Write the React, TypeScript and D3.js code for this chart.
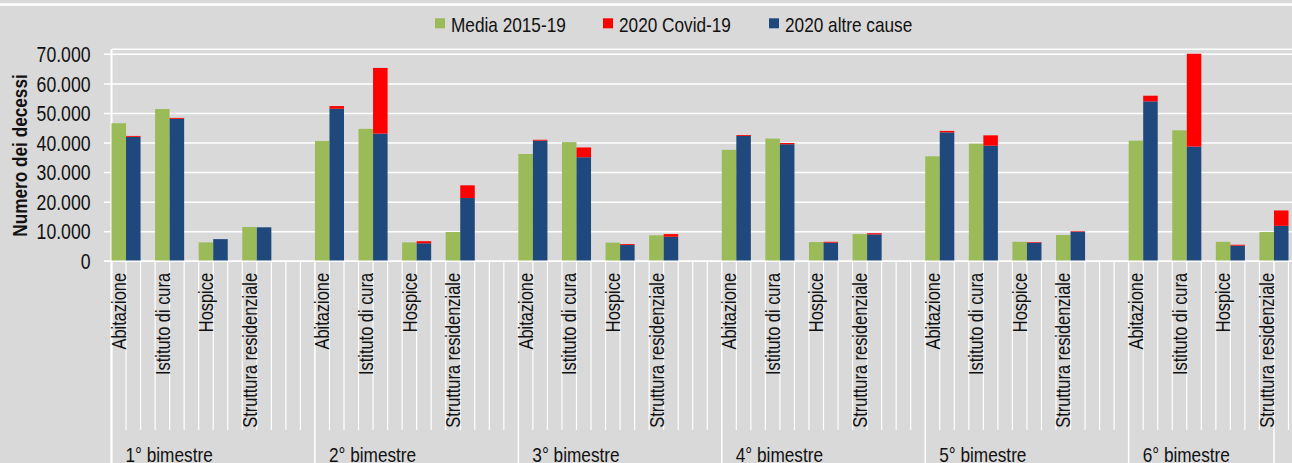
import React from 'react'
import * as d3 from 'd3'

const groups = ['1° bimestre', '2° bimestre', '3° bimestre', '4° bimestre', '5° bimestre', '6° bimestre']
const places = ['Abitazione', 'Istituto di cura', 'Hospice', 'Struttura residenziale']
const seriesNames = ['Media 2015-19', '2020 Covid-19', '2020 altre cause']

// one value per group x place, in the order of groups then places
const media = [
  46700, 51500, 6400, 11600,
  40700, 44800, 6400, 9900,
  36300, 40300, 6300, 8800,
  37700, 41500, 6500, 9200,
  35500, 39800, 6600, 8900,
  40800, 44300, 6600, 9900,
]
const altreCause = [
  42100, 48200, 7500, 11500,
  51600, 43200, 6100, 21400,
  40800, 35200, 5500, 8300,
  42400, 39600, 6300, 9100,
  43600, 39100, 6300, 10000,
  54100, 38800, 5300, 12000,
]
const covid = [
  300, 300, 0, 0,
  900, 22200, 700, 4300,
  300, 3300, 300, 900,
  300, 400, 300, 400,
  500, 3500, 200, 200,
  1900, 31400, 300, 5200,
]
const yTicks = [0, 10000, 20000, 30000, 40000, 50000, 60000, 70000]

const width = 1292
const height = 463
const colors = ['#9bbb59', '#ff0000', '#1f497d']
const font = '"Liberation Sans", Arial, sans-serif'
// the original uses a narrow face: squeeze a regular one along the text direction
const narrow = 0.82

const slotsPerGroup = 14
const totalSlots = slotsPerGroup * (groups.length - 1) + 11

const App: React.FunctionComponent = () => {
  const x = d3
    .scaleBand<number>()
    .domain(d3.range(totalSlots))
    .range([111.5, 1288.5])
    .padding(0)
  const bw = x.bandwidth()
  const y = d3.scaleLinear().domain([0, 71700]).range([261.3, 49.3])
  const fmt = (v: number) => d3.format(',')(v).replace(/,/g, '.')

  const slotX = (i: number) => (i >= totalSlots ? x(totalSlots - 1)! + bw : x(i)!)

  const items = groups.flatMap((g, gi) =>
    places.map((p, pi) => {
      const k = gi * places.length + pi
      const slot = gi * slotsPerGroup + pi * 3
      return { g, p, slot, media: media[k], altre: altreCause[k], covid: covid[k] }
    })
  )

  const groupBounds = groups.map((_, gi) => gi * slotsPerGroup).concat([totalSlots - 1])

  const legendX = [435, 603, 769]

  return (
    <svg
      width={width}
      height={height}
      style={{ position: 'absolute', left: 0, top: 0, display: 'block' }}
      fontFamily={font}
    >
      <rect width={width} height={height} fill="#d9d9d9" />
      <line x1={0} x2={width} y1={4.5} y2={4.5} stroke="#fff" strokeWidth={2.5} />

      {/* legend */}
      {seriesNames.map((s, i) => (
        <g key={s}>
          <rect x={legendX[i]} y={18.3} width={10} height={10} fill={colors[i]} />
          <text
            transform={`translate(${legendX[i] + 16}, 31.5) scale(${narrow}, 1)`}
            fontSize={21}
            fill="#111"
          >
            {s}
          </text>
        </g>
      ))}

      {/* grid */}
      {yTicks.map(t => (
        <g key={t}>
          <line x1={104} x2={width} y1={y(t)} y2={y(t)} stroke="#fff" strokeWidth={1.5} />
          <text
            transform={`translate(90.5, ${y(t)}) scale(${narrow}, 1)`}
            dy="0.36em"
            textAnchor="end"
            fontSize={21.5}
            fill="#111"
          >
            {fmt(t)}
          </text>
        </g>
      ))}
      <line x1={111.5} x2={width} y1={y.range()[1]} y2={y.range()[1]} stroke="#fff" strokeWidth={1.5} />

      <text
        transform={`translate(19, 155.5) rotate(-90) scale(${narrow}, 1)`}
        textAnchor="middle"
        dy="0.36em"
        fontSize={21}
        fontWeight="bold"
        fill="#111"
      >
        Numero dei decessi
      </text>

      {/* category ticks */}
      {d3.range(totalSlots + 1).map(i => {
        const isGroup = groupBounds.includes(i)
        return (
          <line
            key={i}
            x1={slotX(i)}
            x2={slotX(i)}
            y1={y(0)}
            y2={isGroup ? height : 430}
            stroke="#fff"
            strokeWidth={isGroup ? 1.5 : 1.2}
          />
        )
      })}
      <line x1={111.5} x2={111.5} y1={y.range()[1]} y2={height} stroke="#fff" strokeWidth={2} />

      {/* bars */}
      {items.map(d => (
        <g key={d.g + d.p}>
          <rect x={x(d.slot)} y={y(d.media)} width={bw} height={y(0) - y(d.media)} fill={colors[0]} />
          <rect
            x={x(d.slot + 1)}
            y={y(d.altre)}
            width={bw}
            height={y(0) - y(d.altre)}
            fill={colors[2]}
          />
          {d.covid > 0 && (
            <rect
              x={x(d.slot + 1)}
              y={y(d.altre + d.covid)}
              width={bw}
              height={y(d.altre) - y(d.altre + d.covid)}
              fill={colors[1]}
            />
          )}
        </g>
      ))}

      <line x1={104} x2={width} y1={y(0)} y2={y(0)} stroke="#fff" strokeWidth={1.5} />

      {/* category labels */}
      {items.map(d => (
        <text
          key={'l' + d.g + d.p}
          transform={`translate(${x(d.slot)! + bw / 2}, 273) rotate(-90) scale(${narrow}, 1)`}
          textAnchor="end"
          dy="0.36em"
          fontSize={20}
          fill="#111"
        >
          {d.p}
        </text>
      ))}

      {/* group labels */}
      {groups.map((g, gi) => (
        <text
          key={g}
          transform={`translate(${x(gi * slotsPerGroup)! + 14}, 461.5) scale(${narrow}, 1)`}
          fontSize={21}
          fill="#111"
        >
          {g}
        </text>
      ))}
    </svg>
  )
}

export default App
